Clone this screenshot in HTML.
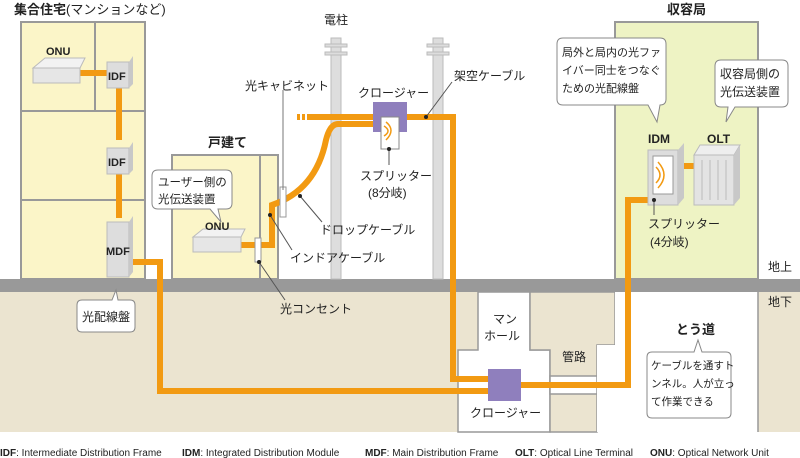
<!DOCTYPE html>
<html><head><meta charset="utf-8"><style>
body{margin:0;background:#fff;}
svg{display:block;}
text{font-family:"Liberation Sans","Noto Sans CJK JP",sans-serif;fill:#222;}
.b{font-weight:bold;}
</style></head><body>
<svg width="800" height="458" viewBox="0 0 800 458" xmlns="http://www.w3.org/2000/svg">
<rect x="0" y="292" width="800" height="140" fill="#ebe4d0"/>
<path d="M478 292 H530 V350 H550 V432 H458 V350 H478 Z" fill="#fff" stroke="#999" stroke-width="1.5"/>
<path d="M530 292 H615 V345 H597 V432 H550 V350 H530 Z" fill="#ebe4d0" stroke="#999" stroke-width="1.5"/>
<rect x="550" y="376" width="47" height="18" fill="#fff" stroke="#999" stroke-width="1.5"/>
<path d="M615 292 H758 V432 H597 V345 H615 Z" fill="#fff"/>
<line x1="758" y1="292" x2="758" y2="432" stroke="#999" stroke-width="1.5"/>
<rect x="0" y="279" width="800" height="13" fill="#999"/>

<rect x="21" y="22" width="124" height="257" fill="#fbf5c8" stroke="#999" stroke-width="2"/>
<line x1="95" y1="22" x2="95" y2="111" stroke="#999" stroke-width="2"/>
<line x1="21" y1="111" x2="145" y2="111" stroke="#999" stroke-width="2"/>
<line x1="21" y1="200" x2="145" y2="200" stroke="#999" stroke-width="2"/>
<text x="14" y="14" font-size="13" class="b">集合住宅<tspan font-weight="normal">(マンションなど)</tspan></text>

<rect x="615" y="22" width="143" height="257" fill="#eef3c4" stroke="#999" stroke-width="2"/>
<text x="667" y="14" font-size="13" class="b">収容局</text>

<rect x="172" y="155" width="106" height="124" fill="#fbf5c8" stroke="#999" stroke-width="2"/>
<line x1="260" y1="155" x2="260" y2="279" stroke="#999" stroke-width="2"/>
<text x="208" y="147" font-size="13" class="b">戸建て</text>

<g fill="#ddd" stroke="#bbb">
<rect x="331" y="38" width="10" height="241"/>
<rect x="433" y="38" width="10" height="241"/>
<rect x="325" y="44" width="22" height="3"/><rect x="325" y="52" width="22" height="3"/>
<rect x="427" y="44" width="22" height="3"/><rect x="427" y="52" width="22" height="3"/>
</g>
<text x="324" y="24" font-size="12">電柱</text>

<g fill="none" stroke="#f29a12" stroke-width="6">
<line x1="80" y1="73" x2="107" y2="73"/>
<line x1="119" y1="88" x2="119" y2="140"/>
<line x1="119" y1="172" x2="119" y2="218"/>
<polyline points="133,262 160,262 160,391 490,391"/>
<polyline points="310,117 453,117 453,379 490,379"/>
<line x1="297" y1="117" x2="310" y2="117" stroke-dasharray="3,2"/>
<polyline points="520,385 628,385 628,200 648,200"/>
<line x1="680" y1="166" x2="694" y2="166"/>
<path d="M373 124 H338 Q330 124 326 140 Q316 190 272 205 V245 H236"/>
</g>

<g>
<polygon points="33,68 45,58 85,58 80,68" fill="#f2f2f2" stroke="#bbb"/>
<rect x="33" y="68" width="47" height="15" fill="#e6e6e6" stroke="#bbb"/>
<text x="46" y="55" font-size="11" class="b">ONU</text>
<rect x="107" y="62" width="22" height="26" fill="#ddd" stroke="#bbb"/>
<polygon points="129,62 133,56 133,84 129,88" fill="#c8c8c8"/>
<text x="108" y="80" font-size="11" class="b">IDF</text>
<rect x="107" y="148" width="22" height="26" fill="#ddd" stroke="#bbb"/>
<polygon points="129,148 133,142 133,170 129,174" fill="#c8c8c8"/>
<text x="108" y="166" font-size="11" class="b">IDF</text>
<rect x="107" y="222" width="22" height="55" fill="#ddd" stroke="#bbb"/>
<polygon points="129,222 133,216 133,272 129,277" fill="#c8c8c8"/>
<text x="106" y="255" font-size="11" class="b">MDF</text>
</g>
<polygon points="193,237 203,229 245,229 241,237" fill="#f2f2f2" stroke="#bbb"/>
<rect x="193" y="237" width="48" height="15" fill="#e6e6e6" stroke="#bbb"/>
<text x="205" y="230" font-size="11" class="b">ONU</text>
<rect x="255" y="238" width="6" height="24" fill="#fff" stroke="#999"/>
<rect x="280" y="187" width="6" height="30" fill="#fff" stroke="#999"/>

<path d="M158 170 H226 Q232 170 232 176 V203 Q232 209 226 209 H218 L221 222 L210 209 H158 Q152 209 152 203 V176 Q152 170 158 170 Z" fill="#fff" stroke="#888"/>
<text x="158" y="186" font-size="11.5">ユーザー側の</text>
<text x="158" y="203" font-size="11.5">光伝送装置</text>

<rect x="373" y="102" width="34" height="30" fill="#8f7fbd"/>
<rect x="381" y="117" width="18" height="32" fill="#fff" stroke="#888"/>
<path d="M386 122 Q396 130 386 140 M384 126 Q392 131 384 136" stroke="#f29a12" fill="none" stroke-width="1.5"/>
<text x="358" y="97" font-size="12">クロージャー</text>
<line x1="389" y1="149" x2="389" y2="165" stroke="#555"/>
<circle cx="389" cy="149" r="2" fill="#222"/>
<text x="360" y="180" font-size="12">スプリッター</text>
<text x="368" y="197" font-size="12">(8分岐)</text>
<line x1="426" y1="117" x2="452" y2="82" stroke="#555"/>
<circle cx="426" cy="117" r="2" fill="#222"/>
<text x="454" y="80" font-size="12">架空ケーブル</text>
<line x1="283" y1="90" x2="283" y2="190" stroke="#777"/>
<text x="245" y="90" font-size="12">光キャビネット</text>
<line x1="300" y1="196" x2="322" y2="222" stroke="#555"/><circle cx="300" cy="196" r="2" fill="#222"/>
<text x="320" y="234" font-size="12">ドロップケーブル</text>
<line x1="270" y1="215" x2="292" y2="250" stroke="#555"/><circle cx="270" cy="215" r="2" fill="#222"/>
<text x="290" y="262" font-size="12">インドアケーブル</text>
<line x1="259" y1="262" x2="285" y2="300" stroke="#555"/><circle cx="259" cy="262" r="2" fill="#222"/>
<text x="280" y="313" font-size="12">光コンセント</text>

<path d="M82 300 H112 L116 290 L118 300 H130 Q135 300 135 305 V327 Q135 332 130 332 H82 Q77 332 77 327 V305 Q77 300 82 300 Z" fill="#fff" stroke="#888"/>
<text x="82" y="321" font-size="12">光配線盤</text>

<rect x="648" y="150" width="30" height="55" fill="#ddd" stroke="#bbb"/>
<polygon points="678,150 684,143 684,198 678,205" fill="#c8c8c8"/>
<rect x="653" y="156" width="20" height="38" fill="#fff" stroke="#999"/>
<path d="M658 162 Q670 175 658 188 M656 167 Q664 175 656 183" stroke="#f29a12" fill="none" stroke-width="1.5"/>
<text x="648" y="143" font-size="12" class="b">IDM</text>
<polygon points="694,155 700,145 740,145 734,155" fill="#eee" stroke="#bbb"/>
<rect x="694" y="155" width="40" height="50" fill="#e3e3e3" stroke="#bbb"/>
<polygon points="734,155 740,145 740,198 734,205" fill="#c8c8c8"/>
<g stroke="#bbb"><line x1="702" y1="160" x2="702" y2="200"/><line x1="710" y1="160" x2="710" y2="200"/><line x1="718" y1="160" x2="718" y2="200"/><line x1="726" y1="160" x2="726" y2="200"/></g>
<text x="707" y="143" font-size="12" class="b">OLT</text>
<line x1="654" y1="200" x2="654" y2="215" stroke="#555"/><circle cx="654" cy="200" r="2" fill="#222"/>
<text x="648" y="228" font-size="12">スプリッター</text>
<text x="650" y="246" font-size="12">(4分岐)</text>
<path d="M563 38 H660 Q666 38 666 44 V99 Q666 105 660 105 H660 L657 122 L648 105 H563 Q557 105 557 99 V44 Q557 38 563 38 Z" fill="#fff" stroke="#888"/>
<text x="562" y="56" font-size="11">局外と局内の光ファ</text>
<text x="562" y="74" font-size="11">イバー同士をつなぐ</text>
<text x="562" y="92" font-size="11">ための光配線盤</text>
<path d="M721 60 H782 Q788 60 788 66 V101 Q788 107 782 107 H735 L726 122 L728 107 H721 Q715 107 715 101 V66 Q715 60 721 60 Z" fill="#fff" stroke="#888"/>
<text x="720" y="78" font-size="12">収容局側の</text>
<text x="720" y="96" font-size="12">光伝送装置</text>
<text x="768" y="271" font-size="12">地上</text>
<text x="768" y="306" font-size="12">地下</text>

<rect x="488" y="369" width="33" height="32" fill="#8f7fbd"/>
<text x="470" y="417" font-size="12">クロージャー</text>
<text x="493" y="323" font-size="12">マン</text>
<text x="484" y="340" font-size="12">ホール</text>
<text x="562" y="361" font-size="12">管路</text>
<text x="676" y="334" font-size="13" class="b">とう道</text>
<path d="M652 352 H694 L698 340 L702 352 H726 Q731 352 731 357 V413 Q731 418 726 418 H652 Q647 418 647 413 V357 Q647 352 652 352 Z" fill="#fff" stroke="#888"/>
<text x="651" y="369" font-size="10.5">ケーブルを通すト</text>
<text x="651" y="387" font-size="10.5">ンネル。人が立っ</text>
<text x="651" y="405" font-size="10.5">て作業できる</text>

<text x="0" y="456" font-size="10"><tspan class="b">IDF</tspan>: Intermediate Distribution Frame</text>
<text x="182" y="456" font-size="10"><tspan class="b">IDM</tspan>: Integrated Distribution Module</text>
<text x="365" y="456" font-size="10"><tspan class="b">MDF</tspan>: Main Distribution Frame</text>
<text x="515" y="456" font-size="10"><tspan class="b">OLT</tspan>: Optical Line Terminal</text>
<text x="650" y="456" font-size="10"><tspan class="b">ONU</tspan>: Optical Network Unit</text>
</svg>
</body></html>
